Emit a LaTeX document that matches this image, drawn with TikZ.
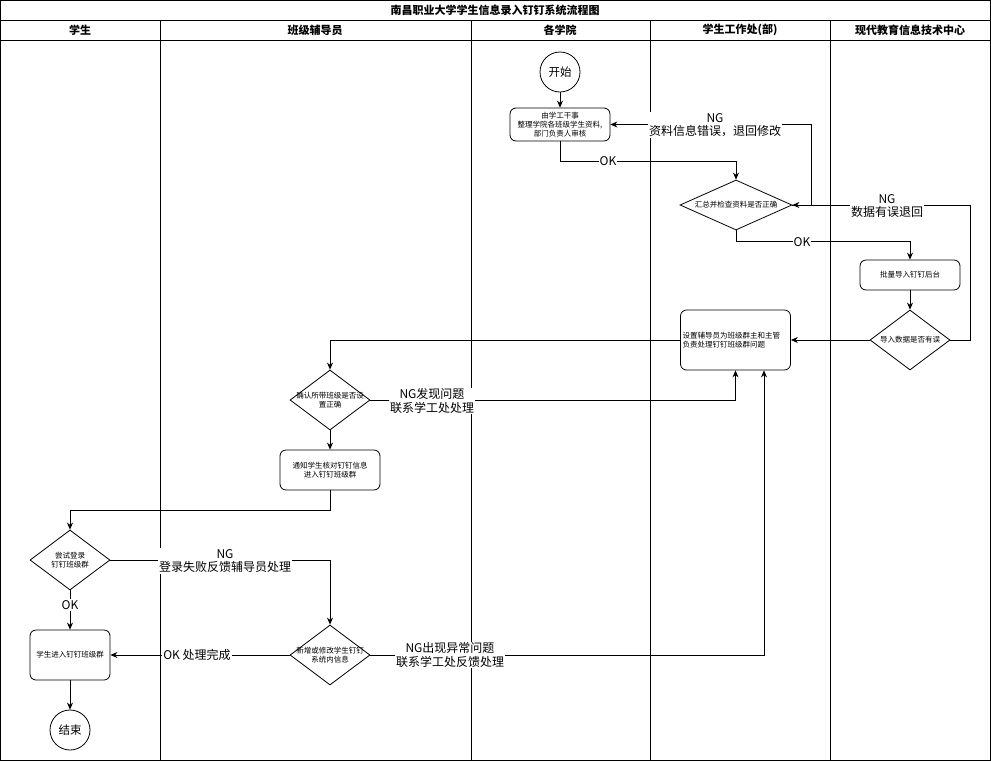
\documentclass[tikz,border=0pt]{standalone}
\usepackage{fontspec}
\setmainfont{Noto Sans CJK SC}
\usetikzlibrary{shapes.geometric,arrows.meta}
\tikzset{
  ln/.style={line width=0.8pt},
  arr/.style={ln,-{Stealth[length=7pt,width=6pt]}},
  box/.style={draw,ln,rounded corners=6pt,inner sep=0pt,font=\fontsize{7.5}{9}\selectfont,align=center},
  dia/.style={draw,ln,diamond,inner sep=0pt},
  dtext/.style={font=\fontsize{7.5}{9}\selectfont,align=center},
  circ/.style={draw,ln,circle,minimum size=40pt,inner sep=0pt,font=\fontsize{11.5}{13}\selectfont},
  lbl/.style={fill=white,inner sep=1pt,font=\fontsize{12}{13.5}\selectfont,align=center},
  hdr/.style={font=\fontsize{11}{13}\selectfont\bfseries}
}
\begin{document}
\begin{tikzpicture}[x=1pt,y=-1pt]
\useasboundingbox (0,0) rectangle (991,761);
% frame
\draw[ln] (0.5,0.5) rectangle (990.5,760.5);
\draw[ln] (0.5,20) -- (990.5,20);
\draw[ln] (0.5,40) -- (990.5,40);
\foreach \xx in {160,471,650,830} \draw[ln] (\xx,20) -- (\xx,760.5);
\node[hdr] (title) at (495,10) {南昌职业大学学生信息录入钉钉系统流程图};
\node[hdr] (h1) at (80,30) {学生};
\node[hdr] (h2) at (315,30) {班级辅导员};
\node[hdr] (h3) at (560,30) {各学院};
\node[hdr] (h4) at (740,30) {学生工作处(部)};
\node[hdr] (h5) at (910,30) {现代教育信息技术中心};
% nodes
\node[circ] (start) at (560,72) {开始};
\node[box,minimum width=100pt,minimum height=33pt] (b1) at (560,124.5) {由学工干事\\整理学院各班级学生资料,\\部门负责人审核};
\node[dia,minimum width=112pt,minimum height=50pt] (d1) at (736,205) {};
\node[dtext] (d1t) at (d1.center) {汇总并检查资料是否正确};
\node[box,minimum width=100pt,minimum height=30pt] (b2) at (910,275) {批量导入钉钉后台};
\node[dia,minimum width=80pt,minimum height=60pt] (d2) at (910,340) {};
\node[dtext] (d2t) at (d2.center) {导入数据是否有误};
\node[box,minimum width=110pt,minimum height=60pt,text width=106pt,align=left] (b3) at (735.5,340) {设置辅导员为班级群主和主管\\负责处理钉钉班级群问题};
\node[dia,minimum width=80pt,minimum height=60pt] (d3) at (330,400) {};
\node[dtext] (d3t) at (d3.center) {确认所带班级是否设\\置正确};
\node[box,minimum width=100pt,minimum height=40pt] (b4) at (330,470) {通知学生核对钉钉信息\\进入钉钉班级群};
\node[dia,minimum width=80pt,minimum height=60pt] (d4) at (70,560) {};
\node[dtext] (d4t) at (d4.center) {尝试登录\\钉钉班级群};
\node[box,minimum width=80pt,minimum height=50pt] (b5) at (70,655) {学生进入钉钉班级群};
\node[circ] (end) at (70,730) {结束};
\node[dia,minimum width=80pt,minimum height=60pt] (d5) at (330,655) {};
\node[dtext] (d5t) at (d5.center) {新增或修改学生钉钉\\系统内信息};
% connectors
\draw[arr] (start) -- (b1);
\draw[arr] (b1.south) -- ++(0,20) -| (d1.north);
\draw[arr] (d1.south) -- ++(0,11) -| (b2.north);
\draw[arr] (d1.east) -- ++(19,0) |- (b1.east);
\draw[arr] (d2.east) -- ++(20,0) |- (d1.east);
\draw[arr] (b2) -- (d2);
\draw[arr] (d2.west) -- (b3.east);
\draw[arr] (b3.west) -| (d3.north);
\draw[arr] (d3.east) -| (b3.south);
\draw[arr] (d3) -- (b4);
\draw[arr] (b4.south) -- ++(0,20) -| (d4.north);
\draw[arr] (d4) -- (b5);
\draw[arr] (b5) -- (end);
\draw[arr] (d4.east) -| (d5.north);
\draw[arr] (d5.west) -- (b5.east);
\draw[arr] (d5.east) -| ([xshift=28.5pt]b3.south);
% labels
\node[lbl] (l1) at (715,125) {NG\\资料信息错误，退回修改};
\node[lbl] (l2) at (608,161) {OK};
\node[lbl] (l3) at (887,206) {NG\\数据有误退回};
\node[lbl] (l4) at (802,242) {OK};
\node[lbl] (l5) at (432,401) {NG发现问题\\联系学工处处理};
\node[lbl] (l6) at (225,561) {NG\\登录失败反馈辅导员处理};
\node[lbl] (l7) at (70,605) {OK};
\node[lbl] (l8) at (197,655) {OK 处理完成};
\node[lbl] (l9) at (450,655) {NG出现异常问题\\联系学工处反馈处理};
\end{tikzpicture}
\end{document}
